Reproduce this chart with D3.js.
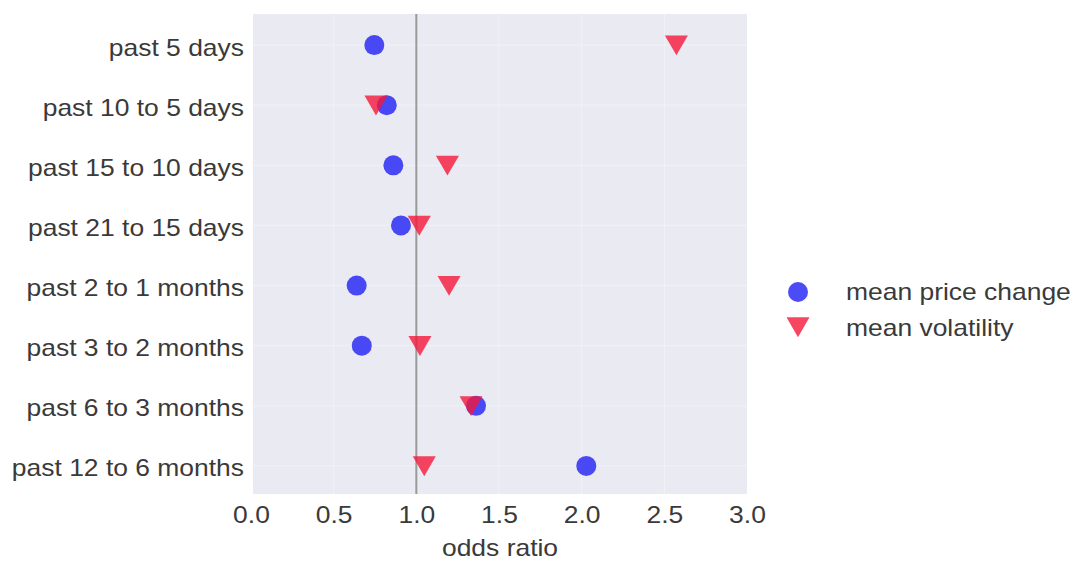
<!DOCTYPE html>
<html>
<head>
<meta charset="utf-8">
<script src="https://cdn.jsdelivr.net/npm/d3@7"></script>
<style>
  html, body { margin: 0; padding: 0; background: #ffffff; }
  svg { display: block; }
  text { font-family: "Liberation Sans", Arial, sans-serif; fill: #3a3a3a; }
</style>
</head>
<body>
<svg id="chart" width="1080" height="575"></svg>
<script>
const categories = ["past 5 days", "past 10 to 5 days", "past 15 to 10 days", "past 21 to 15 days",
  "past 2 to 1 months", "past 3 to 2 months", "past 6 to 3 months", "past 12 to 6 months"];
const priceChange = [0.746, 0.821, 0.861, 0.907, 0.639, 0.670, 1.361, 2.028];
const volatility  = [2.573, 0.756, 1.188, 1.018, 1.198, 1.022, 1.331, 1.048];
const xTicks = [0, 0.5, 1.0, 1.5, 2.0, 2.5, 3.0];
const seriesNames = ["mean price change", "mean volatility"];
const xLabel = "odds ratio";

(function () {
const BLUE = "#1f1ff5", RED = "#f5183a";
const FS = 23, SX = 1.15;

const svg = d3.select("#chart");
const pLeft = 253, pRight = 747, pTop = 14, pBottom = 494;
const x = d3.scaleLinear().domain([0, 3]).range([251, 747]);
const y = d3.scalePoint().domain(categories).range([15, 496]).padding(0.5);

// background
svg.append("rect").attr("x", pLeft).attr("y", pTop).attr("width", pRight - pLeft).attr("height", pBottom - pTop)
  .attr("fill", "#eaeaf2");

// grid (very faint)
const g = svg.append("g");
g.selectAll("line.vg").data(xTicks.slice(1, -1)).join("line")
  .attr("x1", d => x(d)).attr("x2", d => x(d)).attr("y1", pTop).attr("y2", pBottom)
  .attr("stroke", "#ffffff").attr("stroke-opacity", 0.3).attr("stroke-width", 1.2);
g.selectAll("line.hg").data(categories).join("line")
  .attr("x1", pLeft).attr("x2", pRight).attr("y1", d => y(d)).attr("y2", d => y(d))
  .attr("stroke", "#ffffff").attr("stroke-opacity", 0.3).attr("stroke-width", 1.2);

// reference line at 1
svg.append("line").attr("x1", x(1)).attr("x2", x(1)).attr("y1", pTop).attr("y2", pBottom)
  .attr("stroke", "#9a9a9a").attr("stroke-width", 2);

// x axis
const xAxis = d3.axisBottom(x).tickValues(xTicks).tickFormat(d3.format(".1f")).tickSize(0).tickPadding(0);
const xa = svg.append("g").attr("transform", `translate(0,${pBottom})`).call(xAxis);
xa.select(".domain").remove();
xa.selectAll(".tick text").remove();
xa.selectAll(".tick").append("g").attr("transform", "translate(0,29) scale(" + SX + ",1)")
  .append("text").attr("text-anchor", "middle").attr("font-size", FS).attr("fill", "#3a3a3a")
  .text(d => d3.format(".1f")(d));

// y axis
const yAxis = d3.axisLeft(y).tickSize(0).tickPadding(0);
const ya = svg.append("g").attr("transform", `translate(244,0)`).call(yAxis);
ya.select(".domain").remove();
ya.selectAll(".tick text").remove();
ya.selectAll(".tick").append("g").attr("transform", "translate(0,10) scale(" + SX + ",1)")
  .append("text").attr("text-anchor", "end").attr("font-size", FS).attr("fill", "#3a3a3a")
  .text(d => d);

// x label
svg.append("g").attr("transform", `translate(${(pLeft + pRight) / 2},556) scale(${SX},1)`)
  .append("text").attr("text-anchor", "middle").attr("font-size", FS).text(xLabel);

// markers
const tri = d3.symbol().type(d3.symbolTriangle).size(230);
svg.append("g").selectAll("circle").data(priceChange).join("circle")
  .attr("cx", d => x(d)).attr("cy", (d, i) => y(categories[i])).attr("r", 10)
  .attr("fill", BLUE).attr("fill-opacity", 0.8);
svg.append("g").selectAll("path").data(volatility).join("path")
  .attr("d", tri)
  .attr("transform", (d, i) => `translate(${x(d)},${y(categories[i]) - 3}) rotate(180)`)
  .attr("fill", RED).attr("fill-opacity", 0.8);

// legend
const lg = svg.append("g");
lg.append("circle").attr("cx", 798).attr("cy", 292).attr("r", 10).attr("fill", BLUE).attr("fill-opacity", 0.8);
lg.append("path").attr("d", tri).attr("transform", "translate(798,324) rotate(180)")
  .attr("fill", RED).attr("fill-opacity", 0.8);
[292, 328].forEach((yy, i) => {
  lg.append("g").attr("transform", `translate(846,${yy + 8}) scale(${SX},1)`)
    .append("text").attr("font-size", FS).text(seriesNames[i]);
});
})();
</script>
</body>
</html>
